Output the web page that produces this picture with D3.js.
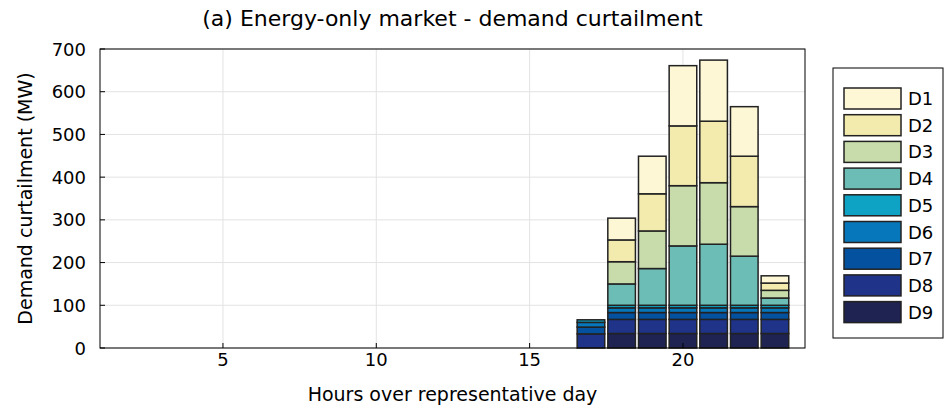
<!DOCTYPE html>
<html>
<head>
<meta charset="utf-8">
<script src="https://cdn.jsdelivr.net/npm/d3@7"></script>
<style>
  body { margin: 0; background: #fff; }
  text { font-family: "DejaVu Sans", sans-serif; fill: #000; }
</style>
</head>
<body>
<svg id="chart" width="945" height="410"></svg>
<script>
const hours = [17, 18, 19, 20, 21, 22, 23];
const seriesNames = ["D1", "D2", "D3", "D4", "D5", "D6", "D7", "D8", "D9"];
const D1 = [0, 51, 88, 141, 143, 116, 17];
const D2 = [0, 51, 87, 140, 144, 118, 17];
const D3 = [0, 52, 88, 141, 144, 116, 18];
const D4 = [0, 50, 86, 139, 143, 115, 17];
const D5 = [6, 6, 6, 6, 6, 6, 6];
const D6 = [11, 11, 11, 11, 11, 11, 11];
const D7 = [16, 16, 16, 16, 16, 16, 16];
const D8 = [33, 33, 33, 33, 33, 33, 33];
const D9 = [0, 34, 34, 34, 34, 34, 34];
const colors = ["#fdf7d5", "#f3eaad", "#c8dbaa", "#6cbdb5", "#0ea3c4", "#0777bb", "#0451a0", "#1f3388", "#1e2352"];
const xTicks = [5, 10, 15, 20];
const yTicks = [0, 100, 200, 300, 400, 500, 600, 700];

const seriesValues = [D1, D2, D3, D4, D5, D6, D7, D8, D9];
const rows = hours.map((h, i) => {
  const r = { hour: h };
  seriesNames.forEach((n, k) => r[n] = seriesValues[k][i]);
  return r;
});
// stack from D9 (bottom) to D1 (top)
const stackOrder = seriesNames.slice().reverse();
const stack = d3.stack().keys(stackOrder)(rows);

const svg = d3.select("#chart");
const L = 100, R = 805, T = 49, B = 348;
const x = d3.scaleLinear().domain([0.99, 23.98]).range([L, R]);
const y = d3.scaleLinear().domain([0, 700]).range([B, T]);

// grid
const g = svg.append("g");
g.selectAll(".gx").data(xTicks).enter().append("line")
  .attr("x1", d => x(d)).attr("x2", d => x(d)).attr("y1", T).attr("y2", B)
  .attr("stroke", "#e3e3e3").attr("stroke-width", 1);
g.selectAll(".gy").data(yTicks).enter().append("line")
  .attr("x1", L).attr("x2", R).attr("y1", d => y(d)).attr("y2", d => y(d))
  .attr("stroke", "#e3e3e3").attr("stroke-width", 1);

// bars
const bw = 0.9;
const colorOf = k => colors[seriesNames.indexOf(k)];
stack.forEach(layer => {
  svg.append("g").selectAll("rect").data(layer.filter(d => d[1] - d[0] > 0)).enter().append("rect")
    .attr("x", d => x(d.data.hour - bw / 2))
    .attr("width", d => x(d.data.hour + bw / 2) - x(d.data.hour - bw / 2))
    .attr("y", d => y(d[1]))
    .attr("height", d => y(d[0]) - y(d[1]))
    .attr("fill", colorOf(layer.key))
    .attr("stroke", "#222").attr("stroke-width", 1.5);
});

// frame
svg.append("rect").attr("x", L).attr("y", T).attr("width", R - L).attr("height", B - T)
  .attr("fill", "none").attr("stroke", "#000").attr("stroke-width", 1);

// ticks
svg.append("g").selectAll("line").data(xTicks).enter().append("line")
  .attr("x1", d => x(d)).attr("x2", d => x(d)).attr("y1", B).attr("y2", B - 5)
  .attr("stroke", "#000");
svg.append("g").selectAll("line").data(yTicks).enter().append("line")
  .attr("x1", L).attr("x2", L + 5).attr("y1", d => y(d)).attr("y2", d => y(d))
  .attr("stroke", "#000");

svg.append("g").selectAll("text").data(xTicks).enter().append("text")
  .attr("x", d => x(d)).attr("y", 366).attr("text-anchor", "middle")
  .attr("font-size", 18).text(d => d);
svg.append("g").selectAll("text").data(yTicks).enter().append("text")
  .attr("x", 86).attr("y", d => y(d) + 6.5).attr("text-anchor", "end")
  .attr("font-size", 18).text(d => d);

// labels
svg.append("text").attr("x", (L + R) / 2).attr("y", 26).attr("text-anchor", "middle")
  .attr("font-size", 22).text("(a) Energy-only market - demand curtailment");
svg.append("text").attr("x", (L + R) / 2).attr("y", 401).attr("text-anchor", "middle")
  .attr("font-size", 19).text("Hours over representative day");
svg.append("text").attr("transform", `translate(32,${(T + B) / 2}) rotate(-90)`)
  .attr("text-anchor", "middle").attr("font-size", 19).text("Demand curtailment (MW)");

// legend
const lg = svg.append("g");
lg.append("rect").attr("x", 833).attr("y", 68).attr("width", 110).attr("height", 270)
  .attr("fill", "#fff").attr("stroke", "#000").attr("stroke-width", 1);
seriesNames.forEach((n, i) => {
  const yy = 88 + i * 26.7;
  lg.append("rect").attr("x", 844).attr("y", yy).attr("width", 57).attr("height", 21)
    .attr("fill", colors[i]).attr("stroke", "#222").attr("stroke-width", 1.5);
  lg.append("text").attr("x", 908).attr("y", yy + 17).attr("font-size", 18).text(n);
});
</script>
</body>
</html>
